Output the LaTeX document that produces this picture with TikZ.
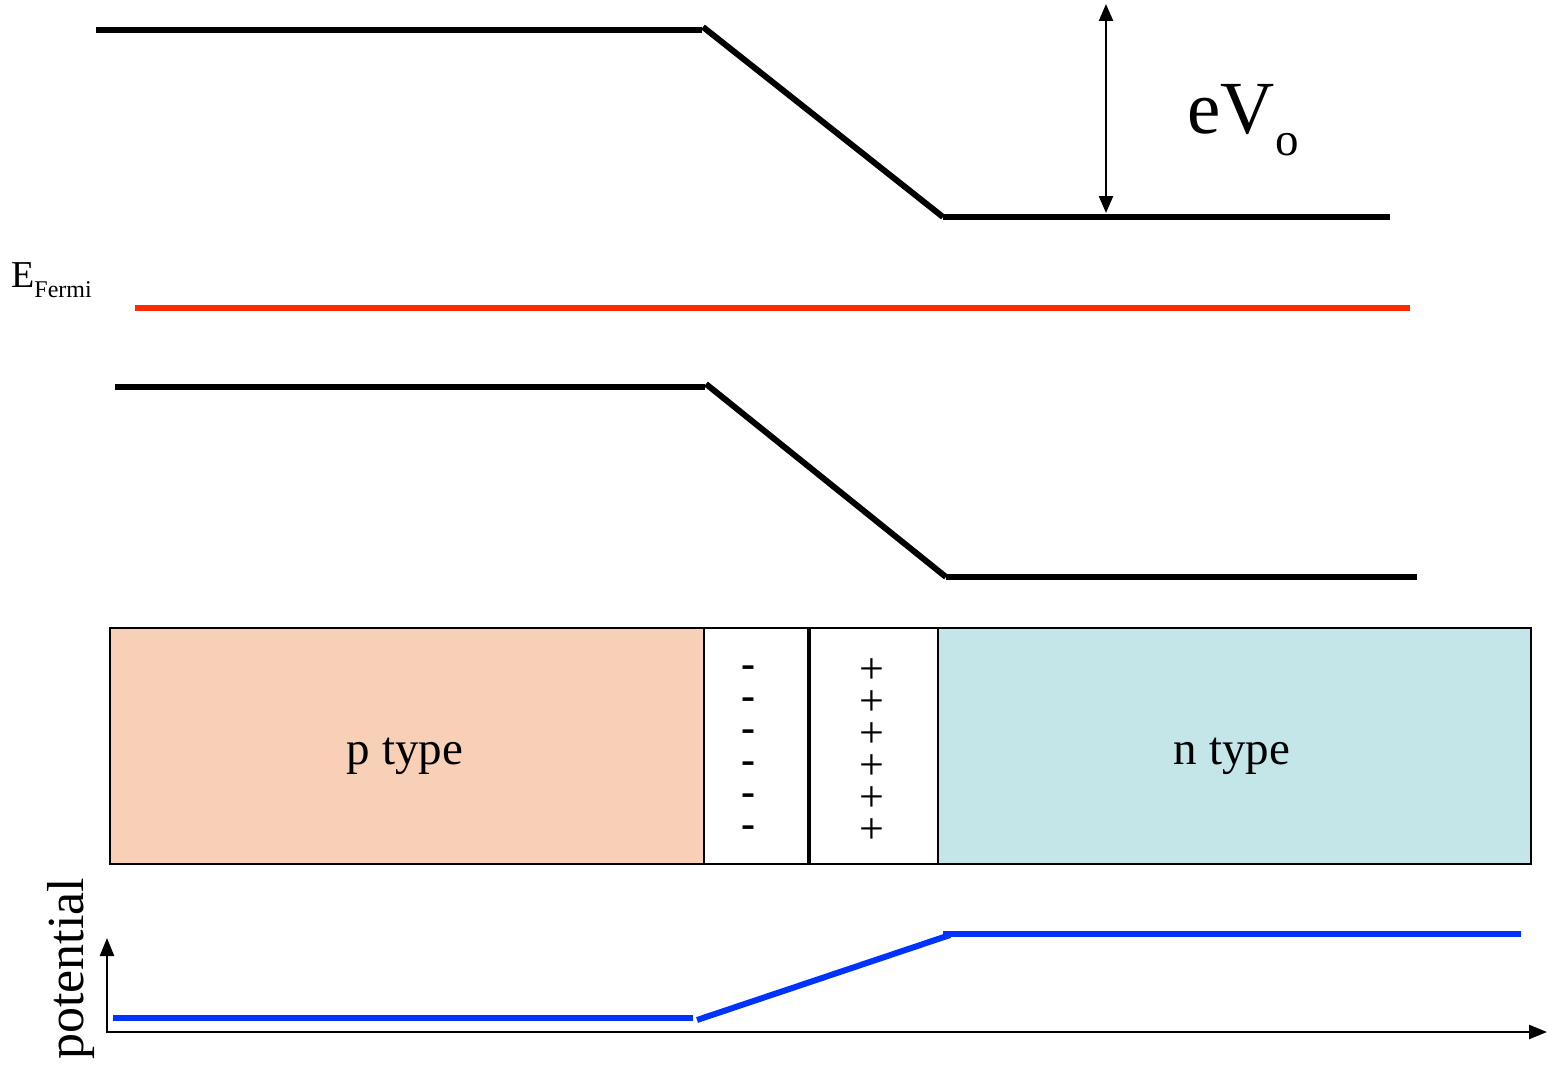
\documentclass[tikz,border=0pt]{standalone}
\usepackage{fontspec}
\setmainfont{Liberation Serif}
\usetikzlibrary{arrows.meta}
\definecolor{bandred}{HTML}{FF2A00}
\definecolor{potblue}{HTML}{0033FF}
\definecolor{pfill}{HTML}{F8D0B8}
\definecolor{nfill}{HTML}{C4E6E8}
\tikzset{
  band/.style={line width=6pt, black},
  fermi/.style={line width=6pt, bandred},
  pot/.style={line width=6pt, potblue},
  region/.style={draw=black, line width=2pt},
  axis/.style={line width=2.4pt, -{Triangle[length=18pt,width=14pt]}},
  charges/.style={inner sep=0pt, align=center},
}
\begin{document}
\begin{tikzpicture}[x=1pt,y=-1pt]
\useasboundingbox (0,0) rectangle (1548,1065);
% conduction band
\coordinate (c1) at (96,30);
\coordinate (c2) at (702,30);
\coordinate (c3) at (703,27);
\coordinate (c4) at (943,217);
\coordinate (c5) at (1390,217);
\draw[band] (c1) -- (c2);
\draw[band] (c3) -- (c4);
\draw[band] (c4) -- (c5);
% barrier arrow
\coordinate (a1) at (1106,4);
\coordinate (a2) at (1106,213);
\draw[line width=2.4pt, {Triangle[length=17pt,width=14pt]}-{Triangle[length=17pt,width=14pt]}] (a1) -- (a2);
\node[anchor=base west, inner sep=0pt] (ev) at (1187,133) {\fontsize{75}{75}\selectfont eV\kern1pt\raisebox{-22pt}{\fontsize{47}{47}\selectfont o}};
% Fermi level
\node[anchor=base west, inner sep=0pt] (ef) at (11,287) {\fontsize{38}{38}\selectfont E\raisebox{-10pt}{\fontsize{24}{24}\selectfont Fermi}};
\coordinate (f1) at (135,308);
\coordinate (f2) at (1410,308);
\draw[fermi] (f1) -- (f2);
% valence band
\coordinate (v1) at (115,387);
\coordinate (v2) at (705,387);
\coordinate (v3) at (706,384);
\coordinate (v4) at (946,577);
\coordinate (v5) at (1417,577);
\draw[band] (v1) -- (v2);
\draw[band] (v3) -- (v4);
\draw[band] (v4) -- (v5);
% regions
\draw[region, fill=pfill] (110,628) rectangle (704,864);
\draw[region, fill=white] (704,628) rectangle (809,864);
\draw[region, fill=white] (809,628) rectangle (938,864);
\draw[region, fill=nfill] (938,628) rectangle (1531,864);
\draw[line width=4pt] (809,628) -- (809,864);
\node[font=\fontsize{47}{47}\selectfont] (ptype) at (405,756) {p type};
\node[font=\fontsize{47}{47}\selectfont] (ntype) at (1232,756) {n type};
\node[charges, font=\fontsize{42}{32}\bfseries, anchor=base] (minus) at (748,837) {-\\-\\-\\-\\-\\-};
\node[charges, font=\fontsize{44}{32}\selectfont, anchor=base] (plus) at (872,843) {+\\+\\+\\+\\+\\+};
% potential
\coordinate (o) at (107,1032);
\coordinate (ytip) at (107,938);
\coordinate (xtip) at (1547,1032);
\draw[axis] (o) -- (ytip);
\draw[axis] (106,1032) -- (xtip);
\node[rotate=90, font=\fontsize{52}{52}\selectfont, inner sep=0pt] (potlabel) at (71,969) {potential};
\coordinate (b1) at (113,1018);
\coordinate (b2) at (693,1018);
\coordinate (b3) at (697,1020);
\coordinate (b4) at (950,935);
\coordinate (b5) at (943,934);
\coordinate (b6) at (1521,934);
\draw[pot] (b1) -- (b2);
\draw[pot] (b3) -- (b4);
\draw[pot] (b5) -- (b6);
\end{tikzpicture}
\end{document}
